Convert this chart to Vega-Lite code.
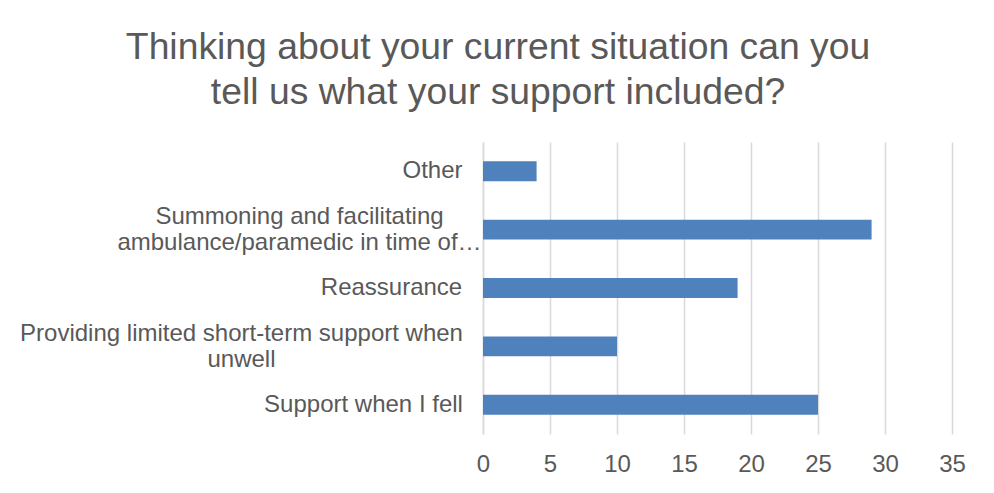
{
  "$schema": "https://vega.github.io/schema/vega-lite/v6.json",
  "autosize": {"type": "none"},
  "padding": {"left": 483, "top": 142, "right": 42, "bottom": 59},
  "width": 469,
  "height": 292,
  "background": "white",
  "title": {
    "text": ["Thinking about your current situation can you", "tell us what your support included?"],
    "fontSize": 37.3,
    "font": "Liberation Sans",
    "fontWeight": "normal",
    "color": "#595959",
    "lineHeight": 44.5,
    "anchor": "middle",
    "frame": "group",
    "dx": -219.5,
    "offset": 30
  },
  "data": {
    "values": [
      {"item": "Other", "count": 4},
      {"item": "Summoning and facilitating ambulance/paramedic in time of…", "count": 29},
      {"item": "Reassurance", "count": 19},
      {"item": "Providing limited short-term support when unwell", "count": 10},
      {"item": "Support when I fell", "count": 25}
    ]
  },
  "mark": {"type": "bar", "color": "#4F81BD"},
  "encoding": {
    "y": {
      "field": "item",
      "type": "nominal",
      "sort": ["Other", "Summoning and facilitating ambulance/paramedic in time of…", "Reassurance", "Providing limited short-term support when unwell", "Support when I fell"],
      "scale": {"paddingInner": 0.66, "paddingOuter": 0.33},
      "axis": {
        "title": null,
        "ticks": false,
        "domain": true,
        "domainColor": "#D9D9D9",
        "domainWidth": 1.5,
        "labelFont": "Liberation Sans",
        "labelFontSize": 24,
        "labelColor": "#595959",
        "labelLimit": 0,
        "labelAlign": "center",
        "labelBaseline": "middle",
        "labelLineHeight": 26,
        "labelExpr": "datum.value == 'Summoning and facilitating ambulance/paramedic in time of…' ? ['Summoning and facilitating', 'ambulance/paramedic in time of…'] : datum.value == 'Providing limited short-term support when unwell' ? ['Providing limited short-term support when', 'unwell'] : datum.value",
        "labelOffset": {
          "condition": [
            {"test": "datum.value == 'Summoning and facilitating ambulance/paramedic in time of…'", "value": -13},
            {"test": "datum.value == 'Providing limited short-term support when unwell'", "value": -12}
          ],
          "value": 0
        },
        "labelPadding": {
          "condition": [
            {"test": "datum.value == 'Other'", "value": 51},
            {"test": "datum.value == 'Reassurance'", "value": 92},
            {"test": "datum.value == 'Support when I fell'", "value": 120},
            {"test": "datum.value == 'Providing limited short-term support when unwell'", "value": 242}
          ],
          "value": 184
        }
      }
    },
    "x": {
      "field": "count",
      "type": "quantitative",
      "scale": {"domain": [0, 35], "nice": false},
      "axis": {
        "title": null,
        "values": [0, 5, 10, 15, 20, 25, 30, 35],
        "domain": false,
        "ticks": false,
        "grid": true,
        "gridColor": "#D9D9D9",
        "gridWidth": 1.5,
        "labelFont": "Liberation Sans",
        "labelFontSize": 24,
        "labelColor": "#595959",
        "labelPadding": 18,
        "labelFlush": false
      }
    }
  },
  "config": {
    "view": {"stroke": null},
    "font": "Liberation Sans"
  }
}
